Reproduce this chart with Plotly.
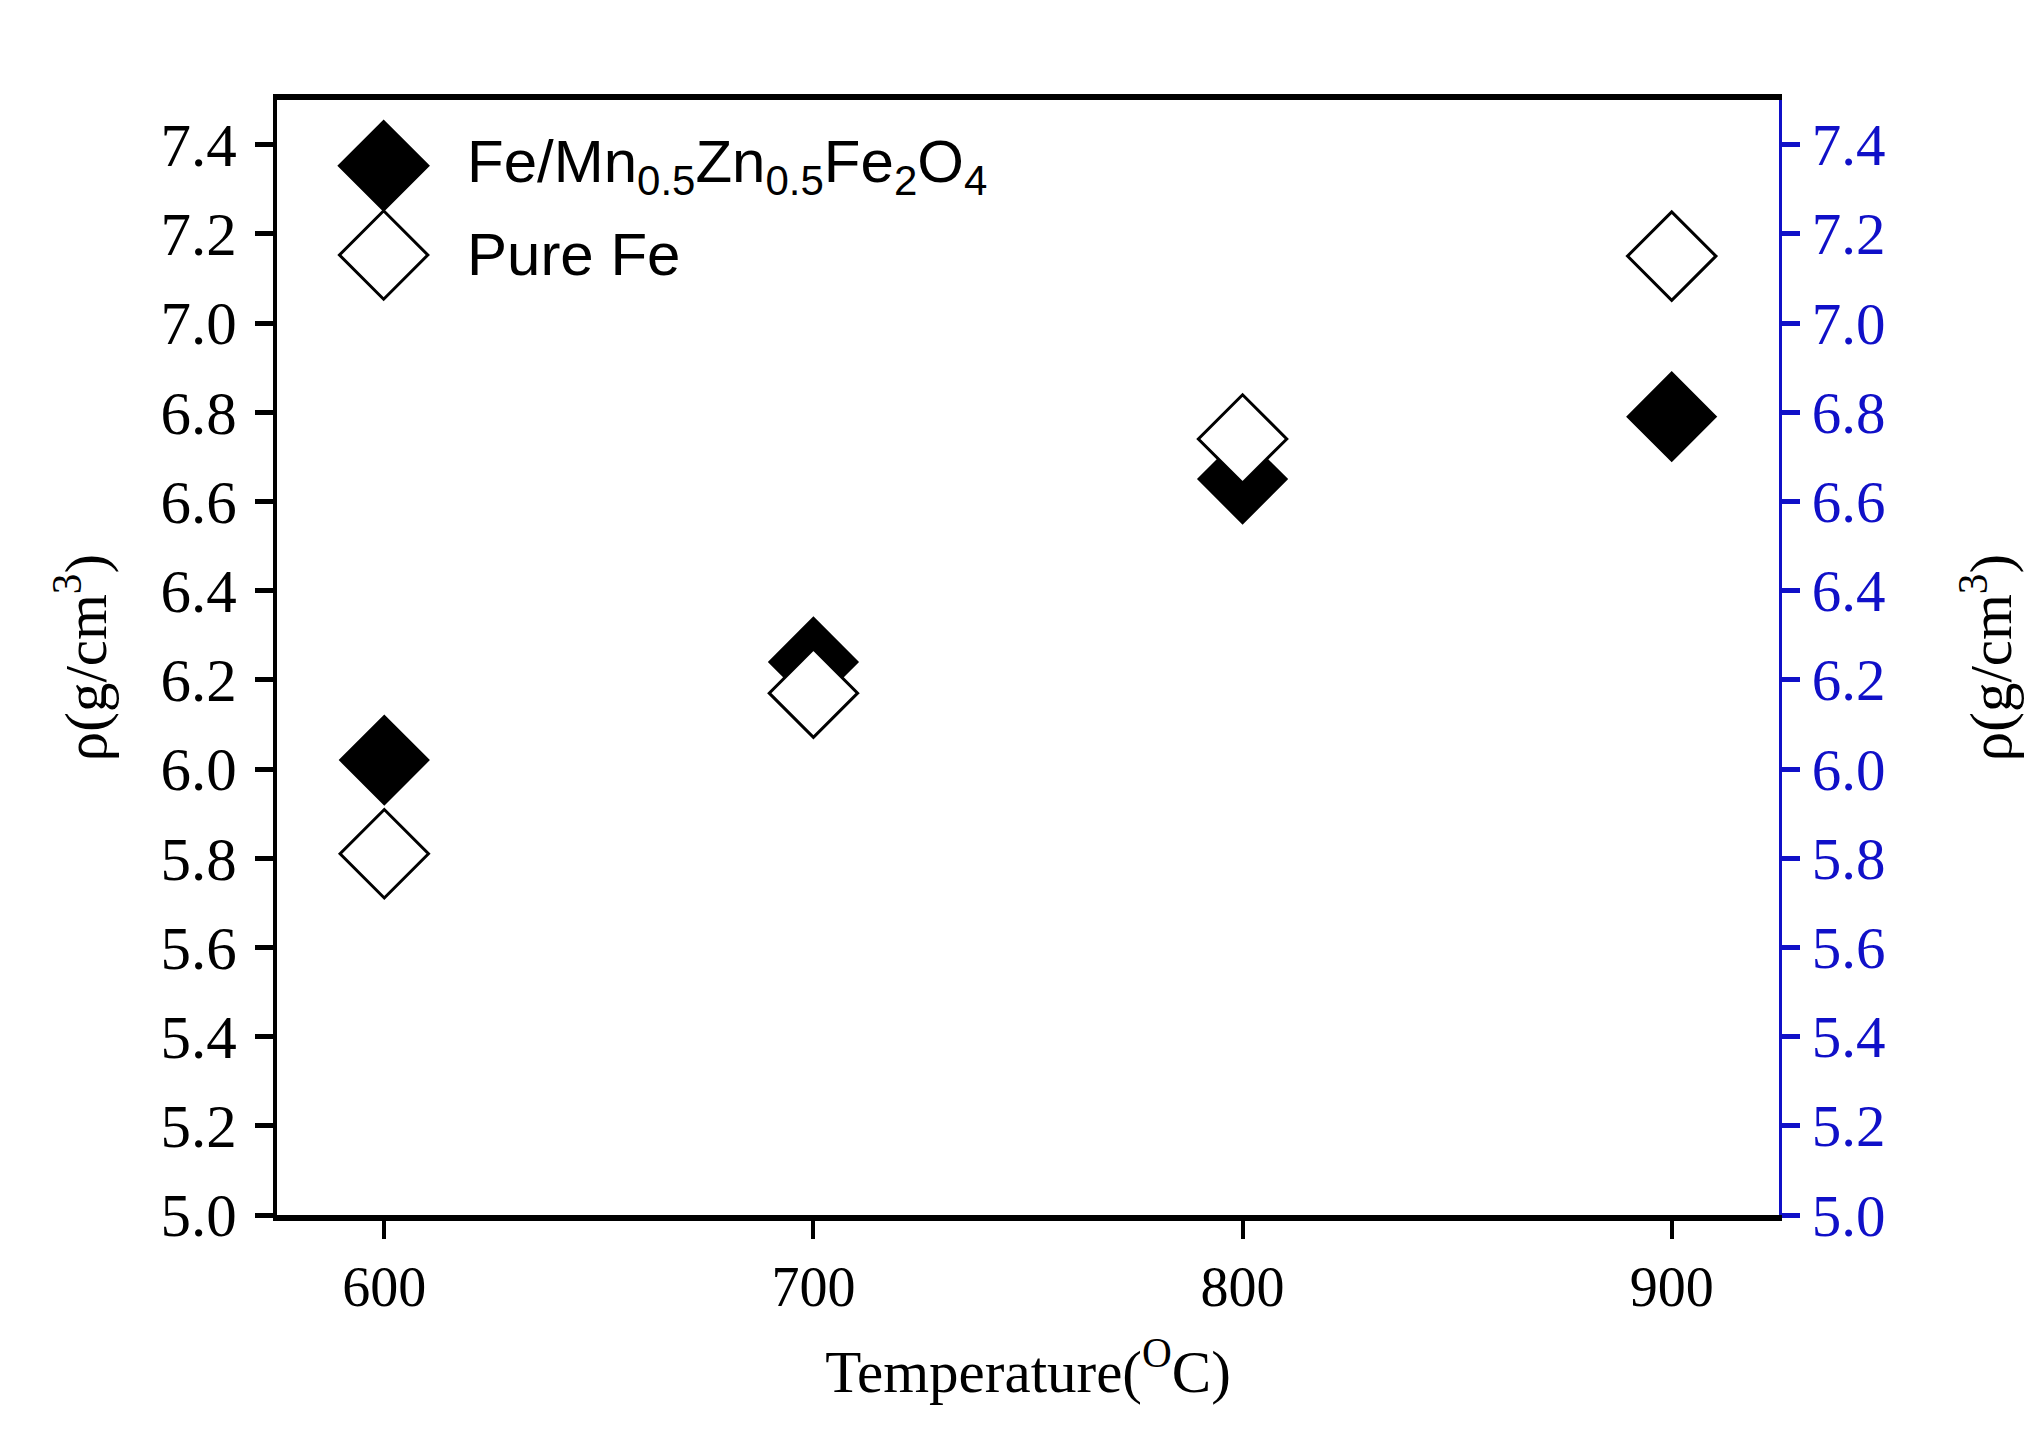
import plotly.graph_objects as go

# data
temperature = [600, 700, 800, 900]
rho_composite = [6.02, 6.24, 6.65, 6.79]
rho_pure_fe = [5.81, 6.17, 6.74, 7.15]

series_names = [
    "Fe/Mn<sub>0.5</sub>Zn<sub>0.5</sub>Fe<sub>2</sub>O<sub>4</sub>",
    "Pure Fe",
]
y_ticks = [5.0, 5.2, 5.4, 5.6, 5.8, 6.0, 6.2, 6.4, 6.6, 6.8, 7.0, 7.2, 7.4]
x_ticks = [600, 700, 800, 900]

SERIF = "Liberation Serif, Times New Roman, serif"
SANS = "Liberation Sans, Arial, sans-serif"
BLUE = "#1010c8"
MARKER_SIZE = 68

# custom legend so the symbols keep the same size as the data markers
LEGEND_X = 0.071
LEGEND_ROWS = [0.941, 0.861]
LEGEND_TEXT_X = 0.125

fig = go.Figure()

fig.add_trace(
    go.Scatter(
        x=temperature,
        y=rho_composite,
        mode="markers",
        name=series_names[0],
        marker=dict(symbol="diamond", size=MARKER_SIZE, color="black",
                    line=dict(color="black", width=2)),
        showlegend=False,
    )
)
# open diamonds have a white fill and sit on top of the filled ones
fig.add_trace(
    go.Scatter(
        x=temperature,
        y=rho_pure_fe,
        mode="markers",
        name=series_names[1],
        marker=dict(symbol="diamond", size=MARKER_SIZE, color="white",
                    line=dict(color="black", width=3)),
        showlegend=False,
    )
)
# invisible trace so the right-hand axis gets drawn
fig.add_trace(
    go.Scatter(
        x=temperature,
        y=rho_pure_fe,
        yaxis="y2",
        mode="markers",
        marker=dict(opacity=0),
        hoverinfo="skip",
        showlegend=False,
    )
)
# legend symbols
fig.add_trace(
    go.Scatter(
        x=[LEGEND_X, LEGEND_X],
        y=LEGEND_ROWS,
        xaxis="x3",
        yaxis="y3",
        mode="markers",
        marker=dict(symbol="diamond", size=MARKER_SIZE,
                    color=["black", "white"], line=dict(color="black", width=3)),
        hoverinfo="skip",
        showlegend=False,
    )
)

for name, row in zip(series_names, LEGEND_ROWS):
    fig.add_annotation(
        x=LEGEND_TEXT_X, y=row, xref="paper", yref="paper",
        text=name, showarrow=False, xanchor="left", yanchor="middle",
        font=dict(family=SANS, size=60, color="black"),
    )

title_font = dict(family=SERIF, size=59, color="black")

fig.update_layout(
    width=2044,
    height=1456,
    margin=dict(l=269, r=273, t=92, b=249),
    paper_bgcolor="white",
    plot_bgcolor="white",
    showlegend=False,
    xaxis=dict(
        range=[575, 925],
        tickvals=x_ticks,
        ticks="outside",
        ticklen=18,
        tickwidth=4,
        tickcolor="black",
        tickfont=dict(family=SERIF, size=56, color="black"),
        showline=True,
        linecolor="black",
        linewidth=6,
        mirror=True,
        showgrid=False,
        zeroline=False,
        title=dict(text="Temperature(<sup>O</sup>C)", font=title_font, standoff=35),
    ),
    yaxis=dict(
        range=[5.0, 7.5],
        tickvals=y_ticks,
        tickformat=".1f",
        ticks="outside",
        ticklen=18,
        tickwidth=5,
        tickcolor="black",
        tickfont=dict(family=SERIF, size=61, color="black"),
        ticklabelstandoff=6,
        showline=True,
        linecolor="black",
        linewidth=4,
        showgrid=False,
        zeroline=False,
        title=dict(text="ρ(g/cm<sup>3</sup>)", font=title_font, standoff=36),
    ),
    yaxis2=dict(
        overlaying="y",
        side="right",
        range=[5.0, 7.5],
        tickvals=y_ticks,
        tickformat=".1f",
        ticks="outside",
        ticklen=18,
        tickwidth=5,
        tickcolor=BLUE,
        tickfont=dict(family=SERIF, size=59, color=BLUE),
        showline=True,
        linecolor=BLUE,
        linewidth=3,
        showgrid=False,
        zeroline=False,
        title=dict(text="ρ(g/cm<sup>3</sup>)", font=title_font, standoff=86),
    ),
    xaxis3=dict(overlaying="x", range=[0, 1], visible=False),
    yaxis3=dict(overlaying="y", range=[0, 1], visible=False),
)

fig.write_html("out.html")
